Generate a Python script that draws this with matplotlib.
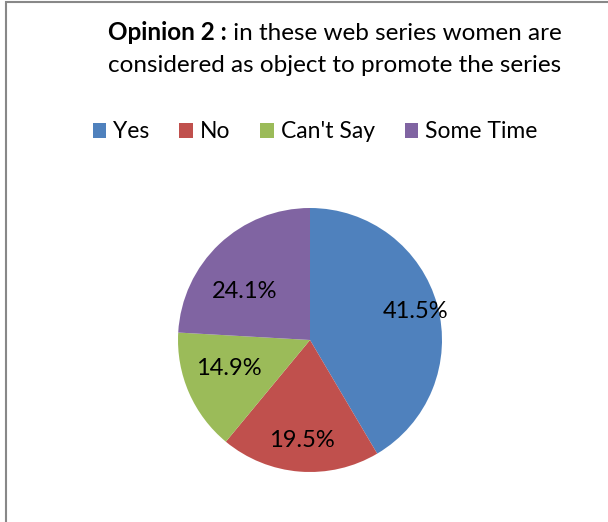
import matplotlib
matplotlib.use("Agg")
import numpy as np
import matplotlib.pyplot as plt
from matplotlib.patches import Rectangle, Patch

categories = ["Yes", "No", "Can't Say", "Some Time"]
values = [41.5, 19.5, 14.9, 24.1]
colors = ["#4F81BD", "#C0504D", "#9BBB59", "#8064A2"]
title_bold = "Opinion 2 :"
title_rest = " in these web series women are"
title_line2 = "considered as object to promote the series"

W, H = 608, 522
fig = plt.figure(figsize=(W / 100, H / 100), dpi=100)
plt.rcParams['font.family'] = ['Lato', 'DejaVu Sans']

# border
fig.patches.append(Rectangle((5.5 / W, -0.1), 1.2, (H - 1.5) / H + 0.1,
                             transform=fig.transFigure, fill=False,
                             edgecolor="#888888", linewidth=1.5))

# pie
cx, cy, r = 310, 340, 132
ax = fig.add_axes([(cx - r) / W, (H - cy - r) / H, 2 * r / W, 2 * r / H])
wedges, texts = ax.pie(values, colors=colors, startangle=90, counterclock=False,
                       labels=[f"{v:.1f}%" for v in values], labeldistance=0.6,
                       textprops=dict(fontsize=17, color="black"),
                       wedgeprops=dict(linewidth=0))
label_dist = [0.83, 0.76, 0.65, 0.62]
label_turn = [0, 0, -4, 10]
for w, t, d, a in zip(wedges, texts, label_dist, label_turn):
    ang = np.deg2rad((w.theta1 + w.theta2) / 2 + a)
    t.set_position((d * np.cos(ang), d * np.sin(ang)))
    t.set_ha("center"); t.set_va("center")
ax.set_aspect("equal")
ax.set_xlim(-1, 1)
ax.set_ylim(-1, 1)

# title
fs = 17.5
renderer = fig.canvas.get_renderer()
tb = fig.text(0, 0, title_bold, fontsize=fs, fontweight="bold")
tr = fig.text(0, 0, title_rest, fontsize=fs)
wb = tb.get_window_extent(renderer).width
wr = tr.get_window_extent(renderer).width
center = 335
x0 = center - (wb + wr) / 2
y1 = H - 33
tb.set_position((x0 / W, y1 / H)); tb.set_va("center")
tr.set_position(((x0 + wb) / W, y1 / H)); tr.set_va("center")
fig.text(center / W, (H - 66) / H, title_line2, fontsize=fs, ha="center", va="center")

# legend
handles = [Patch(facecolor=c, edgecolor="none") for c in colors]
fig.legend(handles, categories, loc="center", bbox_to_anchor=(315 / W, (H - 132) / H),
           ncol=4, frameon=False, fontsize=16.5, handlelength=0.6, handleheight=0.6,
           handletextpad=0.3, columnspacing=1.3)

fig.savefig("out.png", dpi=100)
